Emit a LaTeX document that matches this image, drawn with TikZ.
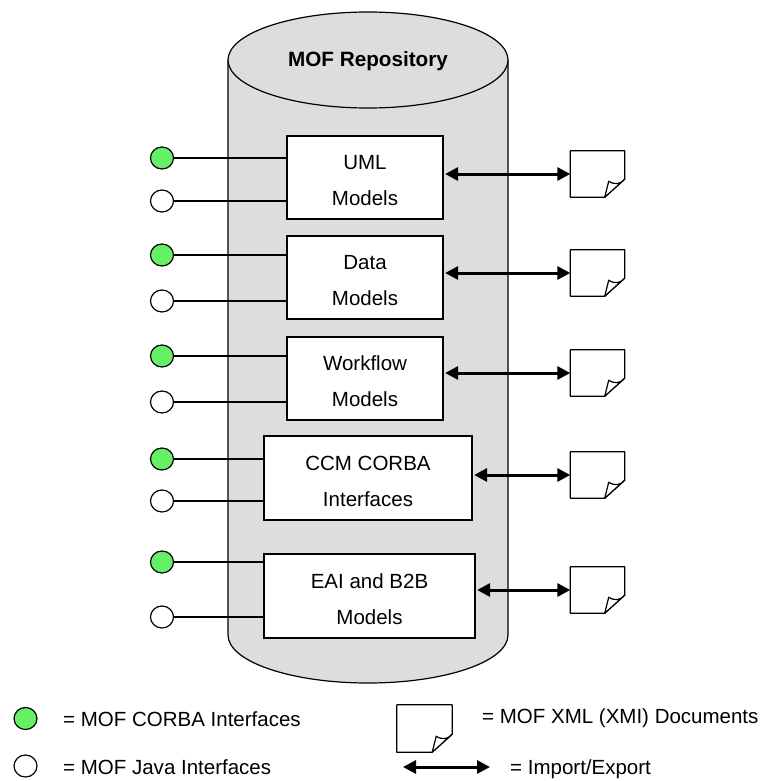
\documentclass[tikz,border=0pt]{standalone}
\usepackage{fontspec}
\setmainfont{Liberation Sans}
\usetikzlibrary{arrows.meta,shapes.geometric}

\definecolor{cylgray}{RGB}{221,221,221}
\definecolor{corbagreen}{RGB}{102,240,102}

\tikzset{
  thin line/.style={line width=1.2pt},
  model box/.style={draw, thin line, fill=white, rectangle, inner sep=0pt},
  box text/.style={inner sep=0pt, align=center, font=\fontsize{20.5}{36}\selectfont},
  port/.style={draw, thin line, ellipse, inner sep=0pt,
    minimum width=23pt, minimum height=22pt},
  corba port/.style={port, fill=corbagreen},
  java port/.style={port, fill=white},
  docpage/.style={rectangle, inner sep=0pt, minimum width=54pt, minimum height=46pt},
  xfer/.style={line width=3pt,
    {Triangle[length=13pt,width=13pt]}-{Triangle[length=13pt,width=13pt]}},
  legend text/.style={anchor=west, inner sep=0pt, font=\fontsize{20.5}{24}\selectfont},
}

% outline of a document sheet with a curled lower right corner
\newcommand\drawdocpage[1]{%
  \draw[thin line, fill=white, line join=round]
    (#1.south west) -- (#1.north west) -- (#1.north east)
    -- ([yshift=18pt]#1.south east) -- ([xshift=-20pt]#1.south east) -- cycle;
  \draw[thin line, fill=white, line join=round]
    ([xshift=-20pt]#1.south east) -- ([xshift=-16pt,yshift=16pt]#1.south east)
    .. controls ([xshift=-10pt,yshift=12pt]#1.south east)
       and ([xshift=-4pt,yshift=13pt]#1.south east) .. ([yshift=18pt]#1.south east)
    -- cycle;
}

\begin{document}
\begin{tikzpicture}[x=1pt, y=-1pt]
\useasboundingbox (0,0) rectangle (767,781);

% repository cylinder
\fill[cylgray] (228,60) -- (228,635)
  arc[start angle=180, end angle=360, x radius=140pt, y radius=48pt]
  -- (508,60) -- cycle;
\draw[thin line] (228,60) -- (228,635)
  arc[start angle=180, end angle=360, x radius=140pt, y radius=48pt]
  -- (508,60);
\draw[thin line, fill=cylgray] (368,60) ellipse [x radius=140pt, y radius=48pt];
\node[font=\fontsize{20.7}{24}\selectfont\bfseries] (title) at (368,61) {MOF Repository};

% model boxes
\node[model box, minimum width=156pt, minimum height=83pt] (b1) at (365,177.5) {};
\node[model box, minimum width=156pt, minimum height=83pt] (b2) at (365,277.5) {};
\node[model box, minimum width=156pt, minimum height=83pt] (b3) at (365,378.5) {};
\node[model box, minimum width=208pt, minimum height=84pt] (b4) at (368,478) {};
\node[model box, minimum width=211pt, minimum height=84pt] (b5) at (369.5,596) {};

\node[box text] (t1) at ([yshift=-3pt]b1.center) {UML\\Models};
\node[box text] (t2) at ([yshift=-3pt]b2.center) {Data\\Models};
\node[box text] (t3) at ([yshift=-3pt]b3.center) {Workflow\\Models};
\node[box text] (t4) at ([yshift=-3pt]b4.center) {CCM CORBA\\Interfaces};
\node[box text] (t5) at ([yshift=-3pt]b5.center) {EAI and B2B\\Models};

% interface ports
\node[corba port] (g1) at (162,158) {};
\node[java port]  (w1) at (162,201) {};
\node[corba port] (g2) at (162,255) {};
\node[java port]  (w2) at (162,301) {};
\node[corba port] (g3) at (162,356) {};
\node[java port]  (w3) at (162,402) {};
\node[corba port] (g4) at (162,459) {};
\node[java port]  (w4) at (162,501) {};
\node[corba port] (g5) at (162,562) {};
\node[java port]  (w5) at (162,617) {};

\foreach \p/\b in {g1/b1,w1/b1,g2/b2,w2/b2,g3/b3,w3/b3,g4/b4,w4/b4,g5/b5,w5/b5}
  \draw[thin line] (\p.east) -- (\p.east -| \b.west);

% XMI documents
\node[docpage] (d1) at (597.5,174) {};
\node[docpage] (d2) at (597.5,273) {};
\node[docpage] (d3) at (597.5,373) {};
\node[docpage] (d4) at (597.5,475) {};
\node[docpage] (d5) at (597.5,590) {};
\foreach \d in {d1,d2,d3,d4,d5} {\drawdocpage{\d}}

\foreach \b/\d in {b1/d1,b2/d2,b3/d3,b4/d4,b5/d5}
  \draw[xfer] ([xshift=1.5pt]\b.east |- \d.west) -- (\d.west);

% legend
\node[corba port] (lg) at (25.5,718.5) {};
\node[java port]  (lw) at (25.5,766) {};
\node[legend text] (lgt) at (63,719) {= MOF CORBA Interfaces};
\node[legend text] (lwt) at (63,767) {= MOF Java Interfaces};

\node[docpage, minimum width=55pt, minimum height=47pt] (ld) at (424.5,728.5) {};
\drawdocpage{ld}
\node[legend text] (ldt) at (482,718) {= MOF XML (XMI) Documents};

\coordinate (la) at (403,767);
\coordinate (lb) at (490,767);
\draw[xfer] (la) -- (lb);
\node[legend text] (lat) at (510,769) {= Import/Export};
\end{tikzpicture}
\end{document}
